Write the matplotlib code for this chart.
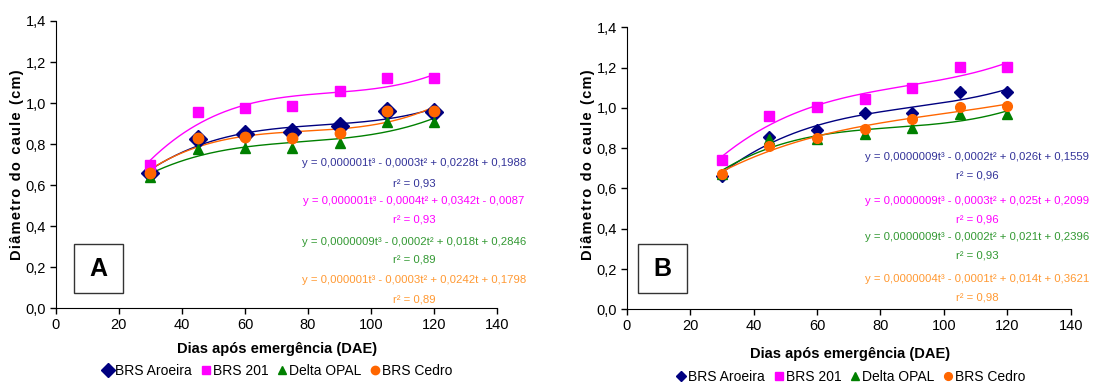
import numpy as np
import matplotlib
matplotlib.use('Agg')
import matplotlib.pyplot as plt
from matplotlib.patches import Rectangle

plt.rcParams['font.family'] = ['Liberation Sans', 'DejaVu Sans']

W, H = 1117, 384

dae = [30, 45, 60, 75, 90, 105, 120]
cultivares = ['BRS Aroeira', 'BRS 201', 'Delta OPAL', 'BRS Cedro']

# painel A
a_aroeira = [0.661, 0.825, 0.848, 0.858, 0.888, 0.961, 0.958]
a_brs201 = [0.698, 0.955, 0.975, 0.986, 1.06, 1.12, 1.12]
a_opal = [0.641, 0.775, 0.783, 0.783, 0.807, 0.908, 0.908]
a_cedro = [0.658, 0.83, 0.833, 0.828, 0.853, 0.963, 0.96]

# painel B
b_aroeira = [0.664, 0.856, 0.889, 0.973, 0.975, 1.077, 1.079]
b_brs201 = [0.74, 0.958, 1.003, 1.043, 1.10, 1.205, 1.205]
b_opal = [0.672, 0.844, 0.844, 0.87, 0.902, 0.97, 0.97]
b_cedro = [0.673, 0.811, 0.852, 0.894, 0.945, 1.006, 1.009]

a_eqs = ['y = 0,000001t³ - 0,0003t² + 0,0228t + 0,1988',
         'y = 0,000001t³ - 0,0004t² + 0,0342t - 0,0087',
         'y = 0,0000009t³ - 0,0002t² + 0,018t + 0,2846',
         'y = 0,000001t³ - 0,0003t² + 0,0242t + 0,1798']
a_r2 = ['r² = 0,93', 'r² = 0,93', 'r² = 0,89', 'r² = 0,89']
b_eqs = ['y = 0,0000009t³ - 0,0002t² + 0,026t + 0,1559',
         'y = 0,0000009t³ - 0,0003t² + 0,025t + 0,2099',
         'y = 0,0000009t³ - 0,0002t² + 0,021t + 0,2396',
         'y = 0,0000004t³ - 0,0001t² + 0,014t + 0,3621']
b_r2 = ['r² = 0,96', 'r² = 0,96', 'r² = 0,93', 'r² = 0,98']

xticks = [0, 20, 40, 60, 80, 100, 120, 140]
yticks = [0.0, 0.2, 0.4, 0.6, 0.8, 1.0, 1.2, 1.4]
ytick_labels = ['0,0', '0,2', '0,4', '0,6', '0,8', '1,0', '1,2', '1,4']

marker_col = ['#000080', '#FF00FF', '#008000', '#FF6600']
line_col = ['#000080', '#FF00FF', '#008000', '#FF6600']
text_col = ['#333399', '#FF00FF', '#339933', '#FF9933']
markers = ['D', 's', '^', 'o']

fig = plt.figure(figsize=(W / 100, H / 100), dpi=100)


def px_axes(l, t, r, b):
    return fig.add_axes([l / W, 1 - b / H, (r - l) / W, (b - t) / H])


def panel(ax, series, eqs, r2s, eq_x, eq_y, r2_y, msizes, label, box, ylab_x, xlab_y, leg_y, leg_x):
    tt = np.linspace(30, 120, 200)
    for i, s in enumerate(series):
        c = np.polyfit(dae, s, 3)
        ax.plot(tt, np.polyval(c, tt), color=line_col[i], lw=1.0, zorder=2)
    for i, s in enumerate(series):
        ax.plot(dae, s, linestyle='none', marker=markers[i], ms=msizes[i],
                color=marker_col[i], zorder=3, label=cultivares[i], clip_on=False)
    ax.set_xlim(0, 140)
    ax.set_ylim(0, 1.4)
    ax.set_xticks(xticks)
    ax.set_yticks(yticks)
    ax.set_yticklabels(ytick_labels)
    for sp in ['top', 'right']:
        ax.spines[sp].set_visible(False)
    ax.tick_params(direction='out', length=4, width=1, labelsize=10.5, pad=3)
    for i in range(4):
        fig.text(eq_x / W, 1 - eq_y[i] / H, eqs[i], color=text_col[i],
                 ha='center', va='center', fontsize=8.2)
        fig.text(eq_x / W, 1 - r2_y[i] / H, r2s[i], color=text_col[i],
                 ha='center', va='center', fontsize=8.2)
    l, t, r, b = box
    fig.patches.append(Rectangle((l / W, 1 - b / H), (r - l) / W, (b - t) / H,
                                 transform=fig.transFigure, fill=False, ec='#333333', lw=1))
    fig.text((l + r) / 2 / W, 1 - (t + b) / 2 / H, label, ha='center', va='center',
             fontsize=18, fontweight='bold')
    ylab = 'D i â m e t r o   d o   c a u l e   ( c m )'.replace('   ', '\u2002').replace(' ', '\u200a')
    fig.text(ylab_x / W, 1 - 165 / H, ylab, rotation=90, ha='center', va='center',
             fontsize=10.5, fontweight='bold', family=['Liberation Sans', 'DejaVu Sans'])
    fig.text(leg_x / W, 1 - xlab_y / H, 'Dias após emergência (DAE)', ha='center', va='center',
             fontsize=10.5, fontweight='bold')
    ax.legend(loc='center', bbox_to_anchor=(leg_x / W, 1 - leg_y / H),
              bbox_transform=fig.transFigure, ncol=4, frameon=False, fontsize=10,
              handletextpad=0.0, columnspacing=0.5, handlelength=1.0, markerscale=0.8)


axA = px_axes(55.7, 21, 497.3, 308.3)
panel(axA, [a_aroeira, a_brs201, a_opal, a_cedro], a_eqs, a_r2, 414,
      [163, 201, 242, 280], [183, 220, 260, 299],
      [9, 6.5, 7, 7.5], 'A', (74, 244, 123, 293), 17, 349, 371, 277)

axB = px_axes(626.7, 27.3, 1070.7, 309.3)
panel(axB, [b_aroeira, b_brs201, b_opal, b_cedro], b_eqs, b_r2, 977,
      [156.7, 200.7, 236.7, 278.7], [175.7, 219.3, 255.3, 297.3],
      [6, 6.5, 7, 7], 'B', (638, 244, 687, 293), 588, 354, 377, 850)

fig.savefig('out.png', dpi=100)
